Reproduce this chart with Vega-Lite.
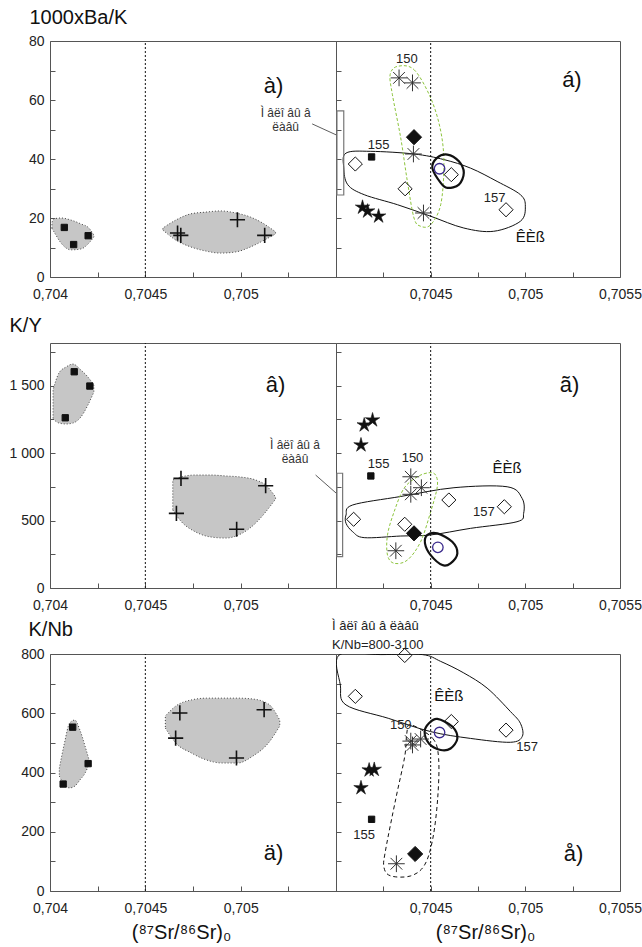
{
"$schema": "https://vega.github.io/schema/vega-lite/v6.json",
"padding": {"left": 8, "top": 6, "right": 0, "bottom": 0},
"background": "white",
"config": {
 "font": "Liberation Sans",
 "view": {"stroke": "#555", "strokeWidth": 1},
 "axis": {"grid": false, "domain": false, "ticks": true, "tickSize": -5, "tickColor": "#555", "labelFont": "Liberation Sans", "labelFontSize": 14, "labelColor": "#222", "labelOverlap": false, "labelFlush": false, "labelBound": false, "labelPadding": 11, "titleFont": "Liberation Sans", "titleFontWeight": "normal", "titleColor": "#111"},
 "axisX": {"labelPadding": 15}
},
"datasets": {"d": [
 {"p":"a","k":"rule","x":0.7045,"y":0,"y2":80},
 {"p":"b","k":"rule","x":0.7045,"y":0,"y2":80},
 {"p":"c","k":"rule","x":0.7045,"y":0,"y2":1815},
 {"p":"d","k":"rule","x":0.7045,"y":0,"y2":1815},
 {"p":"e","k":"rule","x":0.7045,"y":0,"y2":800},
 {"p":"f","k":"rule","x":0.7045,"y":0,"y2":800},

 {"p":"a","k":"pt","t":"sq","x":0.704075,"y":16.8},
 {"p":"a","k":"pt","t":"sq","x":0.704124,"y":11},
 {"p":"a","k":"pt","t":"sq","x":0.7042,"y":14},
 {"p":"a","k":"pt","t":"plus","x":0.704669,"y":14.9},
 {"p":"a","k":"pt","t":"plus","x":0.704686,"y":14.1},
 {"p":"a","k":"pt","t":"plus","x":0.704983,"y":19.4},
 {"p":"a","k":"pt","t":"plus","x":0.705126,"y":14.1},

 {"p":"b","k":"pt","t":"ast","x":0.704333,"y":67.5},
 {"p":"b","k":"pt","t":"ast","x":0.704404,"y":65.8},
 {"p":"b","k":"pt","t":"ast","x":0.704409,"y":41.7},
 {"p":"b","k":"pt","t":"ast","x":0.704462,"y":21.7},
 {"p":"b","k":"pt","t":"dfill","x":0.704412,"y":47.4},
 {"p":"b","k":"pt","t":"dopen","x":0.704102,"y":38.3},
 {"p":"b","k":"pt","t":"dopen","x":0.704365,"y":29.9},
 {"p":"b","k":"pt","t":"dopen","x":0.704609,"y":34.7},
 {"p":"b","k":"pt","t":"dopen","x":0.704898,"y":22.8},
 {"p":"b","k":"pt","t":"sq","x":0.704188,"y":40.7},
 {"p":"b","k":"pt","t":"circ","x":0.704547,"y":36.7},
 {"p":"b","k":"pt","t":"star","x":0.70414,"y":23.6},
 {"p":"b","k":"pt","t":"star","x":0.704167,"y":22.3},
 {"p":"b","k":"pt","t":"star","x":0.704225,"y":20.6},

 {"p":"c","k":"pt","t":"sq","x":0.704127,"y":1602},
 {"p":"c","k":"pt","t":"sq","x":0.704209,"y":1496},
 {"p":"c","k":"pt","t":"sq","x":0.70408,"y":1261},
 {"p":"c","k":"pt","t":"plus","x":0.704687,"y":812},
 {"p":"c","k":"pt","t":"plus","x":0.704663,"y":553},
 {"p":"c","k":"pt","t":"plus","x":0.704979,"y":435},
 {"p":"c","k":"pt","t":"plus","x":0.705131,"y":758},

 {"p":"d","k":"pt","t":"star","x":0.704193,"y":1244},
 {"p":"d","k":"pt","t":"star","x":0.704149,"y":1207},
 {"p":"d","k":"pt","t":"star","x":0.704132,"y":1059},
 {"p":"d","k":"pt","t":"sq","x":0.704184,"y":830},
 {"p":"d","k":"pt","t":"ast","x":0.704395,"y":824},
 {"p":"d","k":"pt","t":"ast","x":0.704451,"y":743},
 {"p":"d","k":"pt","t":"ast","x":0.704395,"y":694},
 {"p":"d","k":"pt","t":"ast","x":0.704316,"y":276},
 {"p":"d","k":"pt","t":"dopen","x":0.704093,"y":509},
 {"p":"d","k":"pt","t":"dopen","x":0.704596,"y":652},
 {"p":"d","k":"pt","t":"dopen","x":0.704889,"y":602},
 {"p":"d","k":"pt","t":"dopen","x":0.704363,"y":472},
 {"p":"d","k":"pt","t":"dfill","x":0.704412,"y":405},
 {"p":"d","k":"pt","t":"circ","x":0.704538,"y":301},

 {"p":"e","k":"pt","t":"sq","x":0.704069,"y":361},
 {"p":"e","k":"pt","t":"sq","x":0.704119,"y":553},
 {"p":"e","k":"pt","t":"sq","x":0.7042,"y":430},
 {"p":"e","k":"pt","t":"plus","x":0.704681,"y":601},
 {"p":"e","k":"pt","t":"plus","x":0.704659,"y":516},
 {"p":"e","k":"pt","t":"plus","x":0.704978,"y":449},
 {"p":"e","k":"pt","t":"plus","x":0.705123,"y":612},

 {"p":"f","k":"pt","t":"dopen","x":0.704363,"y":795},
 {"p":"f","k":"pt","t":"dopen","x":0.704102,"y":657},
 {"p":"f","k":"pt","t":"dopen","x":0.704609,"y":572},
 {"p":"f","k":"pt","t":"dopen","x":0.704898,"y":543},
 {"p":"f","k":"pt","t":"circ","x":0.704547,"y":535},
 {"p":"f","k":"pt","t":"ast","x":0.704395,"y":506},
 {"p":"f","k":"pt","t":"ast","x":0.704447,"y":513},
 {"p":"f","k":"pt","t":"ast","x":0.704404,"y":493},
 {"p":"f","k":"pt","t":"ast","x":0.704319,"y":92},
 {"p":"f","k":"pt","t":"star","x":0.704175,"y":408},
 {"p":"f","k":"pt","t":"star","x":0.704202,"y":410},
 {"p":"f","k":"pt","t":"star","x":0.704132,"y":348},
 {"p":"f","k":"pt","t":"sq","x":0.704188,"y":242},
 {"p":"f","k":"pt","t":"dfill","x":0.704418,"y":125},

 {"p":"a","k":"blob","id":1,"x":0.70401,"y":16.5,"y2":18.5},
 {"p":"a","k":"blob","id":1,"x":0.704021,"y":15.3,"y2":19.7},
 {"p":"a","k":"blob","id":1,"x":0.704058,"y":11.5,"y2":20.0},
 {"p":"a","k":"blob","id":1,"x":0.70411,"y":9.2,"y2":19.3},
 {"p":"a","k":"blob","id":1,"x":0.704162,"y":9.5,"y2":18.0},
 {"p":"a","k":"blob","id":1,"x":0.704204,"y":11.5,"y2":16.6},
 {"p":"a","k":"blob","id":1,"x":0.70423,"y":13.6,"y2":14.2},
 {"p":"a","k":"blob","id":2,"x":0.704592,"y":15.9,"y2":16.6},
 {"p":"a","k":"blob","id":2,"x":0.70466,"y":12.5,"y2":19.3},
 {"p":"a","k":"blob","id":2,"x":0.704738,"y":10.2,"y2":21.4},
 {"p":"a","k":"blob","id":2,"x":0.704817,"y":8.8,"y2":22.0},
 {"p":"a","k":"blob","id":2,"x":0.704895,"y":8.1,"y2":22.4},
 {"p":"a","k":"blob","id":2,"x":0.704974,"y":8.5,"y2":21.7},
 {"p":"a","k":"blob","id":2,"x":0.705052,"y":10.2,"y2":20.3},
 {"p":"a","k":"blob","id":2,"x":0.705115,"y":12.2,"y2":18.3},
 {"p":"a","k":"blob","id":2,"x":0.705183,"y":14.6,"y2":15.3},

 {"p":"c","k":"blob","id":1,"x":0.704016,"y":1252,"y2":1467},
 {"p":"c","k":"blob","id":1,"x":0.704047,"y":1222,"y2":1593},
 {"p":"c","k":"blob","id":1,"x":0.704084,"y":1215,"y2":1637},
 {"p":"c","k":"blob","id":1,"x":0.70412,"y":1222,"y2":1659},
 {"p":"c","k":"blob","id":1,"x":0.704162,"y":1267,"y2":1615},
 {"p":"c","k":"blob","id":1,"x":0.704199,"y":1356,"y2":1563},
 {"p":"c","k":"blob","id":1,"x":0.70423,"y":1452,"y2":1504},
 {"p":"c","k":"blob","id":2,"x":0.704644,"y":578,"y2":800},
 {"p":"c","k":"blob","id":2,"x":0.704686,"y":496,"y2":822},
 {"p":"c","k":"blob","id":2,"x":0.704764,"y":415,"y2":837},
 {"p":"c","k":"blob","id":2,"x":0.704843,"y":378,"y2":837},
 {"p":"c","k":"blob","id":2,"x":0.704921,"y":370,"y2":830},
 {"p":"c","k":"blob","id":2,"x":0.705,"y":400,"y2":822},
 {"p":"c","k":"blob","id":2,"x":0.705079,"y":481,"y2":800},
 {"p":"c","k":"blob","id":2,"x":0.705131,"y":563,"y2":763},
 {"p":"c","k":"blob","id":2,"x":0.705183,"y":659,"y2":674},

 {"p":"e","k":"blob","id":1,"x":0.704049,"y":388,"y2":415},
 {"p":"e","k":"blob","id":1,"x":0.704076,"y":358,"y2":500},
 {"p":"e","k":"blob","id":1,"x":0.704103,"y":348,"y2":567},
 {"p":"e","k":"blob","id":1,"x":0.70413,"y":354,"y2":577},
 {"p":"e","k":"blob","id":1,"x":0.704157,"y":375,"y2":543},
 {"p":"e","k":"blob","id":1,"x":0.704184,"y":398,"y2":489},
 {"p":"e","k":"blob","id":1,"x":0.704205,"y":429,"y2":442},
 {"p":"e","k":"blob","id":2,"x":0.704605,"y":550,"y2":591},
 {"p":"e","k":"blob","id":2,"x":0.704659,"y":500,"y2":624},
 {"p":"e","k":"blob","id":2,"x":0.704741,"y":466,"y2":645},
 {"p":"e","k":"blob","id":2,"x":0.704822,"y":442,"y2":651},
 {"p":"e","k":"blob","id":2,"x":0.704903,"y":432,"y2":651},
 {"p":"e","k":"blob","id":2,"x":0.704984,"y":432,"y2":651},
 {"p":"e","k":"blob","id":2,"x":0.705065,"y":456,"y2":648},
 {"p":"e","k":"blob","id":2,"x":0.705146,"y":500,"y2":631},
 {"p":"e","k":"blob","id":2,"x":0.705205,"y":557,"y2":577},

 {"p":"b","k":"green","o":1,"x":0.704325,"y":71.4},
 {"p":"b","k":"green","o":2,"x":0.704412,"y":70.3},
 {"p":"b","k":"green","o":3,"x":0.7045,"y":60.7},
 {"p":"b","k":"green","o":4,"x":0.704553,"y":49.5},
 {"p":"b","k":"green","o":5,"x":0.70457,"y":38.1},
 {"p":"b","k":"green","o":6,"x":0.704553,"y":24.5},
 {"p":"b","k":"green","o":7,"x":0.7045,"y":17.7},
 {"p":"b","k":"green","o":8,"x":0.704447,"y":17.2},
 {"p":"b","k":"green","o":9,"x":0.704412,"y":20.0},
 {"p":"b","k":"green","o":10,"x":0.704377,"y":32.4},
 {"p":"b","k":"green","o":11,"x":0.704342,"y":47.1},
 {"p":"b","k":"green","o":12,"x":0.704298,"y":61.8},
 {"p":"b","k":"green","o":13,"x":0.704286,"y":68.6},

 {"p":"b","k":"thin","o":1,"x":0.704053,"y":42.0},
 {"p":"b","k":"thin","o":2,"x":0.704184,"y":42.6},
 {"p":"b","k":"thin","o":3,"x":0.704412,"y":41.7},
 {"p":"b","k":"thin","o":4,"x":0.70457,"y":39.8},
 {"p":"b","k":"thin","o":5,"x":0.704711,"y":36.9},
 {"p":"b","k":"thin","o":6,"x":0.704851,"y":32.4},
 {"p":"b","k":"thin","o":7,"x":0.704974,"y":27.9},
 {"p":"b","k":"thin","o":8,"x":0.705,"y":24.0},
 {"p":"b","k":"thin","o":9,"x":0.704974,"y":18.9},
 {"p":"b","k":"thin","o":10,"x":0.704833,"y":15.5},
 {"p":"b","k":"thin","o":11,"x":0.704675,"y":16.6},
 {"p":"b","k":"thin","o":12,"x":0.7045,"y":20.6},
 {"p":"b","k":"thin","o":13,"x":0.704325,"y":24.5},
 {"p":"b","k":"thin","o":14,"x":0.704149,"y":27.9},
 {"p":"b","k":"thin","o":15,"x":0.704062,"y":31.3},
 {"p":"b","k":"thin","o":16,"x":0.704041,"y":37.0},

 {"p":"b","k":"thick","o":1,"x":0.704588,"y":41.5},
 {"p":"b","k":"thick","o":2,"x":0.704649,"y":39.2},
 {"p":"b","k":"thick","o":3,"x":0.704675,"y":35.3},
 {"p":"b","k":"thick","o":4,"x":0.704649,"y":31.3},
 {"p":"b","k":"thick","o":5,"x":0.704588,"y":30.2},
 {"p":"b","k":"thick","o":6,"x":0.704553,"y":31.9},
 {"p":"b","k":"thick","o":7,"x":0.704509,"y":36.9},
 {"p":"b","k":"thick","o":8,"x":0.704532,"y":40.3},

 {"p":"d","k":"green","o":1,"x":0.704526,"y":837},
 {"p":"d","k":"green","o":2,"x":0.704535,"y":750},
 {"p":"d","k":"green","o":3,"x":0.7045,"y":565},
 {"p":"d","k":"green","o":4,"x":0.704447,"y":343},
 {"p":"d","k":"green","o":5,"x":0.704377,"y":207},
 {"p":"d","k":"green","o":6,"x":0.704307,"y":183},
 {"p":"d","k":"green","o":7,"x":0.704272,"y":244},
 {"p":"d","k":"green","o":8,"x":0.704272,"y":393},
 {"p":"d","k":"green","o":9,"x":0.704307,"y":565},
 {"p":"d","k":"green","o":10,"x":0.704359,"y":738},
 {"p":"d","k":"green","o":11,"x":0.70443,"y":824},
 {"p":"d","k":"green","o":12,"x":0.704491,"y":854},

 {"p":"d","k":"thin","o":1,"x":0.704053,"y":541},
 {"p":"d","k":"thin","o":2,"x":0.704088,"y":615},
 {"p":"d","k":"thin","o":3,"x":0.704342,"y":678},
 {"p":"d","k":"thin","o":4,"x":0.704623,"y":743},
 {"p":"d","k":"thin","o":5,"x":0.704904,"y":750},
 {"p":"d","k":"thin","o":6,"x":0.704983,"y":664},
 {"p":"d","k":"thin","o":7,"x":0.704991,"y":553},
 {"p":"d","k":"thin","o":8,"x":0.704956,"y":491},
 {"p":"d","k":"thin","o":9,"x":0.704711,"y":442},
 {"p":"d","k":"thin","o":10,"x":0.7045,"y":393},
 {"p":"d","k":"thin","o":11,"x":0.704342,"y":385},
 {"p":"d","k":"thin","o":12,"x":0.704149,"y":373},
 {"p":"d","k":"thin","o":13,"x":0.704088,"y":417},
 {"p":"d","k":"thin","o":14,"x":0.704053,"y":479},

 {"p":"d","k":"thick","o":1,"x":0.704483,"y":393},
 {"p":"d","k":"thick","o":2,"x":0.704535,"y":405},
 {"p":"d","k":"thick","o":3,"x":0.704614,"y":343},
 {"p":"d","k":"thick","o":4,"x":0.704641,"y":257},
 {"p":"d","k":"thick","o":5,"x":0.704605,"y":183},
 {"p":"d","k":"thick","o":6,"x":0.704562,"y":170},
 {"p":"d","k":"thick","o":7,"x":0.7045,"y":244},
 {"p":"d","k":"thick","o":8,"x":0.70447,"y":331},

 {"p":"f","k":"thin","o":1,"x":0.704017,"y":797},
 {"p":"f","k":"thin","o":2,"x":0.704023,"y":695},
 {"p":"f","k":"thin","o":3,"x":0.704053,"y":628},
 {"p":"f","k":"thin","o":4,"x":0.704276,"y":583},
 {"p":"f","k":"thin","o":5,"x":0.7045,"y":538},
 {"p":"f","k":"thin","o":6,"x":0.704711,"y":515},
 {"p":"f","k":"thin","o":7,"x":0.704921,"y":502},
 {"p":"f","k":"thin","o":8,"x":0.704984,"y":522},
 {"p":"f","k":"thin","o":9,"x":0.704974,"y":566},
 {"p":"f","k":"thin","o":10,"x":0.704921,"y":606},
 {"p":"f","k":"thin","o":11,"x":0.704798,"y":685},
 {"p":"f","k":"thin","o":12,"x":0.704675,"y":736},
 {"p":"f","k":"thin","o":13,"x":0.704553,"y":775},
 {"p":"f","k":"thin","o":14,"x":0.704456,"y":798},
 {"p":"f","k":"thin","o":15,"x":0.704237,"y":798},

 {"p":"f","k":"dash","o":1,"x":0.704395,"y":561},
 {"p":"f","k":"dash","o":2,"x":0.704511,"y":515},
 {"p":"f","k":"dash","o":3,"x":0.704542,"y":447},
 {"p":"f","k":"dash","o":4,"x":0.704537,"y":312},
 {"p":"f","k":"dash","o":5,"x":0.704511,"y":176},
 {"p":"f","k":"dash","o":6,"x":0.704468,"y":88},
 {"p":"f","k":"dash","o":7,"x":0.704395,"y":51},
 {"p":"f","k":"dash","o":8,"x":0.704289,"y":51},
 {"p":"f","k":"dash","o":9,"x":0.704253,"y":81},
 {"p":"f","k":"dash","o":10,"x":0.704263,"y":142},
 {"p":"f","k":"dash","o":11,"x":0.704316,"y":312},
 {"p":"f","k":"dash","o":12,"x":0.704363,"y":454},
 {"p":"f","k":"dash","o":13,"x":0.704374,"y":532},

 {"p":"f","k":"thick","o":1,"x":0.704535,"y":581},
 {"p":"f","k":"thick","o":2,"x":0.704614,"y":555},
 {"p":"f","k":"thick","o":3,"x":0.704641,"y":515},
 {"p":"f","k":"thick","o":4,"x":0.704605,"y":481},
 {"p":"f","k":"thick","o":5,"x":0.704553,"y":476},
 {"p":"f","k":"thick","o":6,"x":0.704491,"y":498},
 {"p":"f","k":"thick","o":7,"x":0.704468,"y":538},
 {"p":"f","k":"thick","o":8,"x":0.704491,"y":566},

 {"p":"b","k":"bar","x":0.704005,"x2":0.704041,"y":27.8,"y2":56.3},
 {"p":"d","k":"bar","x":0.704005,"x2":0.704035,"y":232,"y2":850},

 {"p":"a","k":"lead","o":1,"x":0.705375,"y":51.9},
 {"p":"a","k":"lead","o":2,"x":0.7055,"y":48.2},
 {"p":"c","k":"lead","o":1,"x":0.705393,"y":837},
 {"p":"c","k":"lead","o":2,"x":0.7055,"y":704},

 {"p":"a","k":"let","t":"à)","x":0.705173,"y":64.7},
 {"p":"b","k":"let","t":"á)","x":0.705246,"y":66.9},
 {"p":"c","k":"let","t":"â)","x":0.705183,"y":1504},
 {"p":"d","k":"let","t":"ã)","x":0.705233,"y":1504},
 {"p":"e","k":"let","t":"ä)","x":0.705173,"y":128},
 {"p":"f","k":"let","t":"å)","x":0.705254,"y":125},

 {"p":"a","k":"note","t":"Ì  âëî âû â","x":0.705236,"y":55.6},
 {"p":"a","k":"note","t":"ëàâû","x":0.705236,"y":51.0},
 {"p":"c","k":"note","t":"Ì  âëî âû â","x":0.705285,"y":1059},
 {"p":"c","k":"note","t":"ëàâû","x":0.705285,"y":955},
 {"p":"f","k":"notel","t":"Ì  âëî âû â ëàâû","x":0.703979,"y":895},
 {"p":"f","k":"notel","t":"K/Nb=800-3100","x":0.703979,"y":832},

 {"p":"b","k":"num","t":"150","x":0.704374,"y":74.0},
 {"p":"b","k":"num","t":"155","x":0.704225,"y":44.8},
 {"p":"b","k":"num","t":"157","x":0.704838,"y":26.8},
 {"p":"b","k":"kiya","t":"ÊÈß","x":0.705026,"y":13.5},
 {"p":"d","k":"num","t":"155","x":0.704225,"y":918},
 {"p":"d","k":"num","t":"150","x":0.704404,"y":961},
 {"p":"d","k":"num","t":"157","x":0.704781,"y":565},
 {"p":"d","k":"kiya","t":"ÊÈß","x":0.704904,"y":887},
 {"p":"f","k":"num","t":"150","x":0.704342,"y":560},
 {"p":"f","k":"num","t":"157","x":0.705009,"y":487},
 {"p":"f","k":"num","t":"155","x":0.704149,"y":190},
 {"p":"f","k":"kiya","t":"ÊÈß","x":0.704596,"y":657}
]},
"columns": 2,
"spacing": {"row": 66, "column": 0},
"bounds": "flush",
"resolve": {"scale": {"x": "independent", "y": "independent"}},
"concat": [
 {
  "width": 286, "height": 236, "data": {"name": "d"},
  "encoding": {
   "x": {"field": "x", "type": "quantitative", "scale": {"domain": [0.704, 0.7055], "nice": false, "zero": false},
    "axis": {"values": [0.704, 0.70425, 0.7045, 0.70475, 0.705, 0.70525, 0.7055], "labelExpr": "datum.value == 0.704 ? '0,704' : datum.value == 0.7045 ? '0,7045' : datum.value == 0.705 ? '0,705' : ''", "title": null}},
   "y": {"field": "y", "type": "quantitative", "scale": {"domain": [0, 80], "nice": false},
    "axis": {"values": [0,10,20,30,40,50,60,70,80], "labelExpr": "datum.value % 20 == 0 ? datum.label : ''", "title": "1000xBa/K", "titleAngle": 0, "titleAlign": "left", "titleBaseline": "alphabetic", "titleX": -21, "titleY": -18, "titleFontSize": 20}}
  },
  "layer": [
   {"transform": [{"filter": "datum.p == 'a' && datum.k == 'blob'"}], "mark": {"type": "area", "interpolate": "monotone", "fill": "#c6c6c6", "stroke": "#444", "strokeDash": [1, 2], "strokeWidth": 1}, "encoding": {"y2": {"field": "y2"}, "detail": {"field": "id"}}},
   {"transform": [{"filter": "datum.p == 'a' && datum.k == 'rule'"}], "mark": {"type": "rule", "strokeDash": [2, 2], "color": "#111", "strokeWidth": 1}, "encoding": {"y2": {"field": "y2"}}},
   {"transform": [{"filter": "datum.p == 'a' && datum.k == 'lead'"}], "mark": {"type": "line", "color": "#333", "strokeWidth": 0.8}, "encoding": {"order": {"field": "o"}}},
   {"transform": [{"filter": "datum.p == 'a' && datum.k == 'pt'"}], "mark": {"type": "point", "opacity": 1},
    "encoding": {
     "shape": {"condition": [{"test": "datum.t == 'plus'", "value": "M-1,0H1M0,-1V1"}, {"test": "datum.t == 'ast'", "value": "M-1,0H1M0,-1V1M-0.7,-0.7L0.7,0.7M-0.7,0.7L0.7,-0.7"}, {"test": "datum.t == 'dopen' || datum.t == 'dfill'", "value": "diamond"}, {"test": "datum.t == 'circ'", "value": "circle"}, {"test": "datum.t == 'star'", "value": "M0,-1L0.2,-0.28L0.95,-0.31L0.33,0.11L0.59,0.81L0,0.35L-0.59,0.81L-0.33,0.11L-0.95,-0.31L-0.2,-0.28Z"}], "value": "square"},
     "fill": {"condition": [{"test": "datum.t == 'sq' || datum.t == 'dfill' || datum.t == 'star'", "value": "#111"}], "value": "transparent"},
     "stroke": {"condition": [{"test": "datum.t == 'circ'", "value": "#3b2a8c"}, {"test": "datum.t == 'ast'", "value": "#333"}], "value": "#111"},
     "size": {"condition": [{"test": "datum.t == 'plus'", "value": 230}, {"test": "datum.t == 'ast'", "value": 280}, {"test": "datum.t == 'dopen'", "value": 200}, {"test": "datum.t == 'dfill'", "value": 230}, {"test": "datum.t == 'circ'", "value": 110}, {"test": "datum.t == 'star'", "value": 230}], "value": 40},
     "strokeWidth": {"condition": [{"test": "datum.t == 'plus'", "value": 1.6}, {"test": "datum.t == 'circ'", "value": 1.3}, {"test": "datum.t == 'star'", "value": 0.6}], "value": 1}
    }},
   {"transform": [{"filter": "datum.p == 'a' && datum.k == 'let'"}], "mark": {"type": "text", "fontSize": 22, "color": "#111", "align": "center", "baseline": "middle"}, "encoding": {"text": {"field": "t"}}},
   {"transform": [{"filter": "datum.p == 'a' && datum.k == 'note'"}], "mark": {"type": "text", "fontSize": 12, "color": "#333", "align": "center", "baseline": "middle"}, "encoding": {"text": {"field": "t"}}}
  ]
 },
 {
  "width": 284, "height": 236, "data": {"name": "d"},
  "encoding": {
   "x": {"field": "x", "type": "quantitative", "scale": {"domain": [0.704, 0.7055], "nice": false, "zero": false},
    "axis": {"values": [0.704, 0.70425, 0.7045, 0.70475, 0.705, 0.70525, 0.7055], "labelExpr": "datum.value == 0.7045 ? '0,7045' : datum.value == 0.705 ? '0,705' : datum.value == 0.7055 ? '0,7055' : ''", "title": null}},
   "y": {"field": "y", "type": "quantitative", "scale": {"domain": [0, 80], "nice": false},
    "axis": {"values": [0,10,20,30,40,50,60,70,80], "labels": false, "title": null}}
  },
  "layer": [
   {"transform": [{"filter": "datum.p == 'b' && datum.k == 'thin'"}], "mark": {"type": "line", "interpolate": "cardinal-closed", "color": "#111", "strokeWidth": 1}, "encoding": {"order": {"field": "o"}}},
   {"transform": [{"filter": "datum.p == 'b' && datum.k == 'green'"}], "mark": {"type": "line", "interpolate": "cardinal-closed", "color": "#8cc43c", "strokeWidth": 1, "strokeDash": [3, 2]}, "encoding": {"order": {"field": "o"}}},
   {"transform": [{"filter": "datum.p == 'b' && datum.k == 'thick'"}], "mark": {"type": "line", "interpolate": "cardinal-closed", "color": "#111", "strokeWidth": 2.2}, "encoding": {"order": {"field": "o"}}},
   {"transform": [{"filter": "datum.p == 'b' && datum.k == 'rule'"}], "mark": {"type": "rule", "strokeDash": [2, 2], "color": "#111", "strokeWidth": 1}, "encoding": {"y2": {"field": "y2"}}},
   {"transform": [{"filter": "datum.p == 'b' && datum.k == 'bar'"}], "mark": {"type": "rect", "fill": "transparent", "stroke": "#777", "strokeWidth": 1.2}, "encoding": {"x2": {"field": "x2"}, "y2": {"field": "y2"}}},
   {"transform": [{"filter": "datum.p == 'b' && datum.k == 'pt'"}], "mark": {"type": "point", "opacity": 1},
    "encoding": {
     "shape": {"condition": [{"test": "datum.t == 'plus'", "value": "M-1,0H1M0,-1V1"}, {"test": "datum.t == 'ast'", "value": "M-1,0H1M0,-1V1M-0.7,-0.7L0.7,0.7M-0.7,0.7L0.7,-0.7"}, {"test": "datum.t == 'dopen' || datum.t == 'dfill'", "value": "diamond"}, {"test": "datum.t == 'circ'", "value": "circle"}, {"test": "datum.t == 'star'", "value": "M0,-1L0.2,-0.28L0.95,-0.31L0.33,0.11L0.59,0.81L0,0.35L-0.59,0.81L-0.33,0.11L-0.95,-0.31L-0.2,-0.28Z"}], "value": "square"},
     "fill": {"condition": [{"test": "datum.t == 'sq' || datum.t == 'dfill' || datum.t == 'star'", "value": "#111"}], "value": "transparent"},
     "stroke": {"condition": [{"test": "datum.t == 'circ'", "value": "#3b2a8c"}, {"test": "datum.t == 'ast'", "value": "#333"}], "value": "#111"},
     "size": {"condition": [{"test": "datum.t == 'plus'", "value": 230}, {"test": "datum.t == 'ast'", "value": 280}, {"test": "datum.t == 'dopen'", "value": 200}, {"test": "datum.t == 'dfill'", "value": 230}, {"test": "datum.t == 'circ'", "value": 110}, {"test": "datum.t == 'star'", "value": 230}], "value": 40},
     "strokeWidth": {"condition": [{"test": "datum.t == 'plus'", "value": 1.6}, {"test": "datum.t == 'circ'", "value": 1.3}, {"test": "datum.t == 'star'", "value": 0.6}], "value": 1}
    }},
   {"transform": [{"filter": "datum.p == 'b' && datum.k == 'let'"}], "mark": {"type": "text", "fontSize": 22, "color": "#111", "align": "center", "baseline": "middle"}, "encoding": {"text": {"field": "t"}}},
   {"transform": [{"filter": "datum.p == 'b' && datum.k == 'num'"}], "mark": {"type": "text", "fontSize": 13, "color": "#222", "align": "center", "baseline": "middle"}, "encoding": {"text": {"field": "t"}}},
   {"transform": [{"filter": "datum.p == 'b' && datum.k == 'kiya'"}], "mark": {"type": "text", "fontSize": 15, "color": "#111", "align": "center", "baseline": "middle"}, "encoding": {"text": {"field": "t"}}}
  ]
 },
 {
  "width": 286, "height": 245, "data": {"name": "d"},
  "encoding": {
   "x": {"field": "x", "type": "quantitative", "scale": {"domain": [0.704, 0.7055], "nice": false, "zero": false},
    "axis": {"values": [0.704, 0.70425, 0.7045, 0.70475, 0.705, 0.70525, 0.7055], "labelExpr": "datum.value == 0.704 ? '0,704' : datum.value == 0.7045 ? '0,7045' : datum.value == 0.705 ? '0,705' : ''", "title": null}},
   "y": {"field": "y", "type": "quantitative", "scale": {"domain": [0, 1815], "nice": false},
    "axis": {"values": [0,250,500,750,1000,1250,1500,1750], "labelExpr": "datum.value % 500 == 0 ? replace(format(datum.value, ','), ',', ' ') : ''", "title": "K/Y", "titleAngle": 0, "titleAlign": "left", "titleBaseline": "alphabetic", "titleX": -41, "titleY": -12, "titleFontSize": 20}}
  },
  "layer": [
   {"transform": [{"filter": "datum.p == 'c' && datum.k == 'blob'"}], "mark": {"type": "area", "interpolate": "monotone", "fill": "#c6c6c6", "stroke": "#444", "strokeDash": [1, 2], "strokeWidth": 1}, "encoding": {"y2": {"field": "y2"}, "detail": {"field": "id"}}},
   {"transform": [{"filter": "datum.p == 'c' && datum.k == 'rule'"}], "mark": {"type": "rule", "strokeDash": [2, 2], "color": "#111", "strokeWidth": 1}, "encoding": {"y2": {"field": "y2"}}},
   {"transform": [{"filter": "datum.p == 'c' && datum.k == 'lead'"}], "mark": {"type": "line", "color": "#333", "strokeWidth": 0.8}, "encoding": {"order": {"field": "o"}}},
   {"transform": [{"filter": "datum.p == 'c' && datum.k == 'pt'"}], "mark": {"type": "point", "opacity": 1},
    "encoding": {
     "shape": {"condition": [{"test": "datum.t == 'plus'", "value": "M-1,0H1M0,-1V1"}, {"test": "datum.t == 'ast'", "value": "M-1,0H1M0,-1V1M-0.7,-0.7L0.7,0.7M-0.7,0.7L0.7,-0.7"}, {"test": "datum.t == 'dopen' || datum.t == 'dfill'", "value": "diamond"}, {"test": "datum.t == 'circ'", "value": "circle"}, {"test": "datum.t == 'star'", "value": "M0,-1L0.2,-0.28L0.95,-0.31L0.33,0.11L0.59,0.81L0,0.35L-0.59,0.81L-0.33,0.11L-0.95,-0.31L-0.2,-0.28Z"}], "value": "square"},
     "fill": {"condition": [{"test": "datum.t == 'sq' || datum.t == 'dfill' || datum.t == 'star'", "value": "#111"}], "value": "transparent"},
     "stroke": {"condition": [{"test": "datum.t == 'circ'", "value": "#3b2a8c"}, {"test": "datum.t == 'ast'", "value": "#333"}], "value": "#111"},
     "size": {"condition": [{"test": "datum.t == 'plus'", "value": 230}, {"test": "datum.t == 'ast'", "value": 280}, {"test": "datum.t == 'dopen'", "value": 200}, {"test": "datum.t == 'dfill'", "value": 230}, {"test": "datum.t == 'circ'", "value": 110}, {"test": "datum.t == 'star'", "value": 230}], "value": 40},
     "strokeWidth": {"condition": [{"test": "datum.t == 'plus'", "value": 1.6}, {"test": "datum.t == 'circ'", "value": 1.3}, {"test": "datum.t == 'star'", "value": 0.6}], "value": 1}
    }},
   {"transform": [{"filter": "datum.p == 'c' && datum.k == 'let'"}], "mark": {"type": "text", "fontSize": 22, "color": "#111", "align": "center", "baseline": "middle"}, "encoding": {"text": {"field": "t"}}},
   {"transform": [{"filter": "datum.p == 'c' && datum.k == 'note'"}], "mark": {"type": "text", "fontSize": 12, "color": "#333", "align": "center", "baseline": "middle"}, "encoding": {"text": {"field": "t"}}}
  ]
 },
 {
  "width": 284, "height": 245, "data": {"name": "d"},
  "encoding": {
   "x": {"field": "x", "type": "quantitative", "scale": {"domain": [0.704, 0.7055], "nice": false, "zero": false},
    "axis": {"values": [0.704, 0.70425, 0.7045, 0.70475, 0.705, 0.70525, 0.7055], "labelExpr": "datum.value == 0.7045 ? '0,7045' : datum.value == 0.705 ? '0,705' : datum.value == 0.7055 ? '0,7055' : ''", "title": null}},
   "y": {"field": "y", "type": "quantitative", "scale": {"domain": [0, 1815], "nice": false},
    "axis": {"values": [0,250,500,750,1000,1250,1500,1750], "labels": false, "title": null}}
  },
  "layer": [
   {"transform": [{"filter": "datum.p == 'd' && datum.k == 'thin'"}], "mark": {"type": "line", "interpolate": "cardinal-closed", "color": "#111", "strokeWidth": 1}, "encoding": {"order": {"field": "o"}}},
   {"transform": [{"filter": "datum.p == 'd' && datum.k == 'green'"}], "mark": {"type": "line", "interpolate": "cardinal-closed", "color": "#8cc43c", "strokeWidth": 1, "strokeDash": [3, 2]}, "encoding": {"order": {"field": "o"}}},
   {"transform": [{"filter": "datum.p == 'd' && datum.k == 'thick'"}], "mark": {"type": "line", "interpolate": "cardinal-closed", "color": "#111", "strokeWidth": 2.2}, "encoding": {"order": {"field": "o"}}},
   {"transform": [{"filter": "datum.p == 'd' && datum.k == 'rule'"}], "mark": {"type": "rule", "strokeDash": [2, 2], "color": "#111", "strokeWidth": 1}, "encoding": {"y2": {"field": "y2"}}},
   {"transform": [{"filter": "datum.p == 'd' && datum.k == 'bar'"}], "mark": {"type": "rect", "fill": "transparent", "stroke": "#777", "strokeWidth": 1.2}, "encoding": {"x2": {"field": "x2"}, "y2": {"field": "y2"}}},
   {"transform": [{"filter": "datum.p == 'd' && datum.k == 'pt'"}], "mark": {"type": "point", "opacity": 1},
    "encoding": {
     "shape": {"condition": [{"test": "datum.t == 'plus'", "value": "M-1,0H1M0,-1V1"}, {"test": "datum.t == 'ast'", "value": "M-1,0H1M0,-1V1M-0.7,-0.7L0.7,0.7M-0.7,0.7L0.7,-0.7"}, {"test": "datum.t == 'dopen' || datum.t == 'dfill'", "value": "diamond"}, {"test": "datum.t == 'circ'", "value": "circle"}, {"test": "datum.t == 'star'", "value": "M0,-1L0.2,-0.28L0.95,-0.31L0.33,0.11L0.59,0.81L0,0.35L-0.59,0.81L-0.33,0.11L-0.95,-0.31L-0.2,-0.28Z"}], "value": "square"},
     "fill": {"condition": [{"test": "datum.t == 'sq' || datum.t == 'dfill' || datum.t == 'star'", "value": "#111"}], "value": "transparent"},
     "stroke": {"condition": [{"test": "datum.t == 'circ'", "value": "#3b2a8c"}, {"test": "datum.t == 'ast'", "value": "#333"}], "value": "#111"},
     "size": {"condition": [{"test": "datum.t == 'plus'", "value": 230}, {"test": "datum.t == 'ast'", "value": 280}, {"test": "datum.t == 'dopen'", "value": 200}, {"test": "datum.t == 'dfill'", "value": 230}, {"test": "datum.t == 'circ'", "value": 110}, {"test": "datum.t == 'star'", "value": 230}], "value": 40},
     "strokeWidth": {"condition": [{"test": "datum.t == 'plus'", "value": 1.6}, {"test": "datum.t == 'circ'", "value": 1.3}, {"test": "datum.t == 'star'", "value": 0.6}], "value": 1}
    }},
   {"transform": [{"filter": "datum.p == 'd' && datum.k == 'let'"}], "mark": {"type": "text", "fontSize": 22, "color": "#111", "align": "center", "baseline": "middle"}, "encoding": {"text": {"field": "t"}}},
   {"transform": [{"filter": "datum.p == 'd' && datum.k == 'num'"}], "mark": {"type": "text", "fontSize": 13, "color": "#222", "align": "center", "baseline": "middle"}, "encoding": {"text": {"field": "t"}}},
   {"transform": [{"filter": "datum.p == 'd' && datum.k == 'kiya'"}], "mark": {"type": "text", "fontSize": 15, "color": "#111", "align": "center", "baseline": "middle"}, "encoding": {"text": {"field": "t"}}}
  ]
 },
 {
  "width": 286, "height": 237, "data": {"name": "d"},
  "encoding": {
   "x": {"field": "x", "type": "quantitative", "scale": {"domain": [0.704, 0.7055], "nice": false, "zero": false},
    "axis": {"values": [0.704, 0.70425, 0.7045, 0.70475, 0.705, 0.70525, 0.7055], "labelExpr": "datum.value == 0.704 ? '0,704' : datum.value == 0.7045 ? '0,7045' : datum.value == 0.705 ? '0,705' : ''", "title": "(⁸⁷Sr/⁸⁶Sr)₀", "titleFontSize": 20, "titleX": 131, "titleY": 47, "titleAlign": "center", "titleBaseline": "alphabetic"}},
   "y": {"field": "y", "type": "quantitative", "scale": {"domain": [0, 800], "nice": false},
    "axis": {"values": [0,100,200,300,400,500,600,700,800], "labelExpr": "datum.value % 200 == 0 ? datum.label : ''", "title": "K/Nb", "titleAngle": 0, "titleAlign": "left", "titleBaseline": "alphabetic", "titleX": -22, "titleY": -19, "titleFontSize": 20}}
  },
  "layer": [
   {"transform": [{"filter": "datum.p == 'e' && datum.k == 'blob'"}], "mark": {"type": "area", "interpolate": "monotone", "fill": "#c6c6c6", "stroke": "#444", "strokeDash": [1, 2], "strokeWidth": 1}, "encoding": {"y2": {"field": "y2"}, "detail": {"field": "id"}}},
   {"transform": [{"filter": "datum.p == 'e' && datum.k == 'rule'"}], "mark": {"type": "rule", "strokeDash": [2, 2], "color": "#111", "strokeWidth": 1}, "encoding": {"y2": {"field": "y2"}}},
   {"transform": [{"filter": "datum.p == 'e' && datum.k == 'pt'"}], "mark": {"type": "point", "opacity": 1},
    "encoding": {
     "shape": {"condition": [{"test": "datum.t == 'plus'", "value": "M-1,0H1M0,-1V1"}, {"test": "datum.t == 'ast'", "value": "M-1,0H1M0,-1V1M-0.7,-0.7L0.7,0.7M-0.7,0.7L0.7,-0.7"}, {"test": "datum.t == 'dopen' || datum.t == 'dfill'", "value": "diamond"}, {"test": "datum.t == 'circ'", "value": "circle"}, {"test": "datum.t == 'star'", "value": "M0,-1L0.2,-0.28L0.95,-0.31L0.33,0.11L0.59,0.81L0,0.35L-0.59,0.81L-0.33,0.11L-0.95,-0.31L-0.2,-0.28Z"}], "value": "square"},
     "fill": {"condition": [{"test": "datum.t == 'sq' || datum.t == 'dfill' || datum.t == 'star'", "value": "#111"}], "value": "transparent"},
     "stroke": {"condition": [{"test": "datum.t == 'circ'", "value": "#3b2a8c"}, {"test": "datum.t == 'ast'", "value": "#333"}], "value": "#111"},
     "size": {"condition": [{"test": "datum.t == 'plus'", "value": 230}, {"test": "datum.t == 'ast'", "value": 280}, {"test": "datum.t == 'dopen'", "value": 200}, {"test": "datum.t == 'dfill'", "value": 230}, {"test": "datum.t == 'circ'", "value": 110}, {"test": "datum.t == 'star'", "value": 230}], "value": 40},
     "strokeWidth": {"condition": [{"test": "datum.t == 'plus'", "value": 1.6}, {"test": "datum.t == 'circ'", "value": 1.3}, {"test": "datum.t == 'star'", "value": 0.6}], "value": 1}
    }},
   {"transform": [{"filter": "datum.p == 'e' && datum.k == 'let'"}], "mark": {"type": "text", "fontSize": 22, "color": "#111", "align": "center", "baseline": "middle"}, "encoding": {"text": {"field": "t"}}}
  ]
 },
 {
  "width": 284, "height": 237, "data": {"name": "d"},
  "encoding": {
   "x": {"field": "x", "type": "quantitative", "scale": {"domain": [0.704, 0.7055], "nice": false, "zero": false},
    "axis": {"values": [0.704, 0.70425, 0.7045, 0.70475, 0.705, 0.70525, 0.7055], "labelExpr": "datum.value == 0.7045 ? '0,7045' : datum.value == 0.705 ? '0,705' : datum.value == 0.7055 ? '0,7055' : ''", "title": "(⁸⁷Sr/⁸⁶Sr)₀", "titleFontSize": 20, "titleX": 149, "titleY": 47, "titleAlign": "center", "titleBaseline": "alphabetic"}},
   "y": {"field": "y", "type": "quantitative", "scale": {"domain": [0, 800], "nice": false},
    "axis": {"values": [0,100,200,300,400,500,600,700,800], "labels": false, "title": null}}
  },
  "layer": [
   {"transform": [{"filter": "datum.p == 'f' && datum.k == 'thin'"}], "mark": {"type": "line", "interpolate": "cardinal-closed", "color": "#111", "strokeWidth": 1, "clip": true}, "encoding": {"order": {"field": "o"}}},
   {"transform": [{"filter": "datum.p == 'f' && datum.k == 'dash'"}], "mark": {"type": "line", "interpolate": "cardinal-closed", "color": "#111", "strokeWidth": 1, "strokeDash": [4, 3]}, "encoding": {"order": {"field": "o"}}},
   {"transform": [{"filter": "datum.p == 'f' && datum.k == 'thick'"}], "mark": {"type": "line", "interpolate": "cardinal-closed", "color": "#111", "strokeWidth": 2.2}, "encoding": {"order": {"field": "o"}}},
   {"transform": [{"filter": "datum.p == 'f' && datum.k == 'rule'"}], "mark": {"type": "rule", "strokeDash": [2, 2], "color": "#111", "strokeWidth": 1}, "encoding": {"y2": {"field": "y2"}}},
   {"transform": [{"filter": "datum.p == 'f' && datum.k == 'pt'"}], "mark": {"type": "point", "opacity": 1},
    "encoding": {
     "shape": {"condition": [{"test": "datum.t == 'plus'", "value": "M-1,0H1M0,-1V1"}, {"test": "datum.t == 'ast'", "value": "M-1,0H1M0,-1V1M-0.7,-0.7L0.7,0.7M-0.7,0.7L0.7,-0.7"}, {"test": "datum.t == 'dopen' || datum.t == 'dfill'", "value": "diamond"}, {"test": "datum.t == 'circ'", "value": "circle"}, {"test": "datum.t == 'star'", "value": "M0,-1L0.2,-0.28L0.95,-0.31L0.33,0.11L0.59,0.81L0,0.35L-0.59,0.81L-0.33,0.11L-0.95,-0.31L-0.2,-0.28Z"}], "value": "square"},
     "fill": {"condition": [{"test": "datum.t == 'sq' || datum.t == 'dfill' || datum.t == 'star'", "value": "#111"}], "value": "transparent"},
     "stroke": {"condition": [{"test": "datum.t == 'circ'", "value": "#3b2a8c"}, {"test": "datum.t == 'ast'", "value": "#333"}], "value": "#111"},
     "size": {"condition": [{"test": "datum.t == 'plus'", "value": 230}, {"test": "datum.t == 'ast'", "value": 280}, {"test": "datum.t == 'dopen'", "value": 200}, {"test": "datum.t == 'dfill'", "value": 230}, {"test": "datum.t == 'circ'", "value": 110}, {"test": "datum.t == 'star'", "value": 230}], "value": 40},
     "strokeWidth": {"condition": [{"test": "datum.t == 'plus'", "value": 1.6}, {"test": "datum.t == 'circ'", "value": 1.3}, {"test": "datum.t == 'star'", "value": 0.6}], "value": 1}
    }},
   {"transform": [{"filter": "datum.p == 'f' && datum.k == 'let'"}], "mark": {"type": "text", "fontSize": 22, "color": "#111", "align": "center", "baseline": "middle"}, "encoding": {"text": {"field": "t"}}},
   {"transform": [{"filter": "datum.p == 'f' && datum.k == 'num'"}], "mark": {"type": "text", "fontSize": 13, "color": "#222", "align": "center", "baseline": "middle"}, "encoding": {"text": {"field": "t"}}},
   {"transform": [{"filter": "datum.p == 'f' && datum.k == 'kiya'"}], "mark": {"type": "text", "fontSize": 15, "color": "#111", "align": "center", "baseline": "middle"}, "encoding": {"text": {"field": "t"}}},
   {"transform": [{"filter": "datum.p == 'f' && datum.k == 'notel'"}], "mark": {"type": "text", "fontSize": 13, "color": "#222", "align": "left", "baseline": "middle"}, "encoding": {"text": {"field": "t"}}}
  ]
 }
]
}
